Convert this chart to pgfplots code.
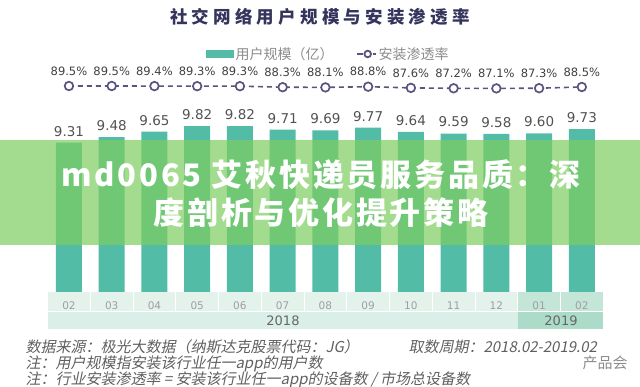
\documentclass[border=0pt]{standalone}
\usepackage{pgfplots}
\pgfplotsset{compat=1.18}
\usepackage{fontspec}
\setmainfont{DejaVu Sans}
\newfontfamily\cjk{Noto Sans CJK SC}
\newfontfamily\cjkit[FakeSlant=0.2]{Noto Sans CJK SC}
\newfontfamily\num{DejaVu Sans}
\definecolor{barc}{RGB}{82,188,166}
\definecolor{linec}{RGB}{88,84,128}
\definecolor{titlec}{RGB}{52,52,92}
\definecolor{mrow}{RGB}{228,242,236}
\definecolor{mrowb}{RGB}{196,230,216}
\definecolor{yrow}{RGB}{218,239,231}
\definecolor{yrowb}{RGB}{172,220,201}
\definecolor{bannerc}{RGB}{125,205,95}
\definecolor{footc}{RGB}{95,95,95}
\begin{document}
\begin{tikzpicture}[x=1pt,y=1pt]
\useasboundingbox (0,0) rectangle (640,387);
% category bands
\fill[mrow] (47.6,76) rectangle (518.4,95);
\fill[mrowb] (518.4,76) rectangle (603.2,95);
\fill[yrow] (47.6,58) rectangle (518.4,75);
\fill[yrowb] (518.4,58) rectangle (603.2,75);
\foreach \i in {1,...,12} \draw[white, line width=1pt] (47.6+\i*42.74,76) -- ++(0,19);
\node[font=\num\fontsize{13}{13}\selectfont, text=black!60] at (283,66.5) {2018};
\node[font=\num\fontsize{13}{13}\selectfont, text=black!60] at (561,66.5) {2019};

\begin{axis}[at={(47.6pt,95pt)}, anchor=south west, scale only axis,
  width=555.6pt, height=242pt, xmin=-0.5, xmax=12.5, ymin=4.7, ymax=12.17,
  axis line style={draw=none}, tick style={draw=none}, ytick=\empty,
  xtick={0,...,12}, xticklabels={02,03,04,05,06,07,08,09,10,11,12,01,02},
  xticklabel style={font=\num\fontsize{10.5}{10.5}\selectfont, text=black!38, anchor=center, yshift=-9.5pt},
  ybar, bar width=26pt, clip=false,
  nodes near coords={\pgfmathprintnumber[fixed,fixed zerofill,precision=2,assume math mode=true]{\pgfplotspointmeta}},
  every node near coord/.append style={font=\num\fontsize{13.5}{13.5}\selectfont, text=black!68, anchor=center, yshift=11.5pt}]
\addplot[fill=barc, draw=none] coordinates {(0,9.31) (1,9.48) (2,9.65) (3,9.82) (4,9.82) (5,9.71) (6,9.69) (7,9.77) (8,9.64) (9,9.59) (10,9.58) (11,9.60) (12,9.73)};
\end{axis}

\begin{axis}[at={(47.6pt,95pt)}, anchor=south west, scale only axis,
  width=555.6pt, height=242pt, xmin=-0.5, xmax=12.5, ymin=-116.5, ymax=125.5,
  hide axis, clip=false,
  legend columns=2,
  legend style={at={(0.5056,0.9835)}, anchor=center, draw=none, fill=none,
    font=\cjk\fontsize{14}{14}\selectfont, text=black!45,
    /tikz/every even column/.append style={column sep=20pt}},
  ]
\addlegendimage{legend image code/.code={\fill[barc] (0pt,-3.4pt) rectangle (27pt,3.4pt);}}
\addlegendentry{用户规模（亿）}
\addplot[linec, line width=1.6pt, dash pattern=on 5pt off 4pt,
  mark=*, mark size=4.3pt, mark options={solid, fill=white, draw=linec, line width=1.7pt},
  nodes near coords={\pgfmathprintnumber[fixed,fixed zerofill,precision=1,assume math mode=true]{\pgfplotspointmeta}\%},
  every node near coord/.append style={font=\num\fontsize{11.5}{11.5}\selectfont, text=black!75, anchor=center, yshift=15pt},
  legend image code/.code={\draw[linec, solid, line width=2pt] (0pt,0pt) -- (6pt,0pt); \draw[linec, solid, line width=2pt] (16pt,0pt) -- (19pt,0pt); \draw[linec, solid, fill=white, line width=1.8pt] (11pt,0pt) circle (3.3pt);}]
 coordinates {(0,89.5) (1,89.5) (2,89.4) (3,89.3) (4,89.3) (5,88.3) (6,88.1) (7,88.8) (8,87.6) (9,87.2) (10,87.1) (11,87.3) (12,88.5)};
\addlegendentry{安装渗透率}
\end{axis}

% title
\node[font=\cjk\bfseries\fontsize{17.5}{17.5}\selectfont\addfontfeature{LetterSpace=24}, text=titlec] at (320,370) {社交网络用户规模与安装渗透率};

% banner overlay
\fill[bannerc, opacity=0.7] (0,142) rectangle (640,247);
\node[font=\cjk\bfseries\fontsize{31}{38}\selectfont\addfontfeature{LetterSpace=9}, text=white, align=center] at (321,193) {md0065 艾秋快递员服务品质：深\\度剖析与优化提升策略};

% footer
\node[anchor=west, font=\cjkit\fontsize{15}{15}\selectfont, text=footc] at (22,40) {数据来源：极光大数据（纳斯达克股票代码：JG）};
\node[anchor=west, font=\cjkit\fontsize{15}{15}\selectfont, text=footc] at (405,40) {取数周期：2018.02-2019.02};
\node[anchor=west, font=\cjkit\fontsize{15}{15}\selectfont, text=footc] at (22,23.5) {注：用户规模指安装该行业任一app的用户数};
\node[anchor=west, font=\cjkit\fontsize{15}{15}\selectfont, text=footc] at (22,7.5) {注：行业安装渗透率 = 安装该行业任一app的设备数 / 市场总设备数};
\node[font=\cjk\fontsize{15}{15}\selectfont, text=black!45] at (605,24) {产品会};
\end{tikzpicture}
\end{document}
